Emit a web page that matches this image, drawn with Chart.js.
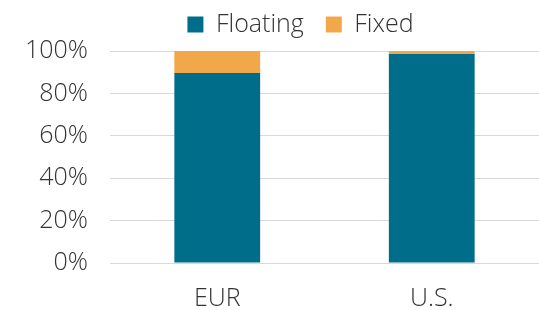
<!DOCTYPE html>
<html>
<head>
<meta charset="utf-8">
<script src="https://cdn.jsdelivr.net/npm/chart.js@4"></script>
<style>
  html, body { margin: 0; padding: 0; background: #fff; }
  #wrap { width: 539px; height: 310px; }
</style>
</head>
<body>
<div id="wrap"><canvas id="debtChart"></canvas></div>
<script>
const categories = ['EUR', 'U.S.'];
const floatingShare = [89.6, 98.6];
const fixedShare = [10.4, 1.4];

Chart.defaults.font.family = '"Open Sans", Roboto, sans-serif';
Chart.defaults.font.weight = 300;
Chart.defaults.color = '#333333';

// legend height is set by hand so the plot starts where the original does,
// and the legend itself is nudged up and to the right
const legendTweak = {
    id: 'legendTweak',
    beforeInit(chart) {
        const origFit = chart.legend.fit;
        chart.legend.fit = function () {
            origFit.bind(chart.legend)();
            this.height = 51;
        };
    },
    afterLayout(chart) {
        chart.legend.left += 31;
        chart.legend.right += 31;
        chart.legend.top -= 10;
    }
};

const ctx = document.getElementById('debtChart');
new Chart(ctx, {
    type: 'bar',
    data: {
        labels: categories,
        datasets: [
            {
                label: 'Floating',
                data: floatingShare,
                backgroundColor: '#006E8A'
            },
            {
                label: 'Fixed',
                data: fixedShare,
                backgroundColor: '#F2A84A'
            }
        ]
    },
    options: {
        responsive: true,
        maintainAspectRatio: false,
        animation: false,
        layout: {
            padding: 0
        },
        datasets: {
            bar: { categoryPercentage: 1, barPercentage: 0.4 }
        },
        plugins: {
            legend: {
                position: 'top',
                labels: {
                    font: { size: 25, weight: 300 },
                    boxWidth: 16,
                    boxHeight: 16,
                    padding: 22
                }
            },
            tooltip: { enabled: false }
        },
        scales: {
            x: {
                stacked: true,
                grid: { display: false },
                border: { display: false },
                ticks: { font: { size: 25, weight: 300 }, padding: 13 },
                afterFit: axis => { axis.height = 47; }
            },
            y: {
                stacked: true,
                min: 0,
                max: 100,
                grid: { color: '#d9d9d9', drawTicks: false },
                border: { display: false },
                ticks: {
                    stepSize: 20,
                    font: { size: 25, weight: 300 },
                    padding: 22,
                    callback: value => value + '%'
                },
                afterFit: axis => { axis.width = 110; }
            }
        }
    },
    plugins: [legendTweak]
});
</script>
</body>
</html>
